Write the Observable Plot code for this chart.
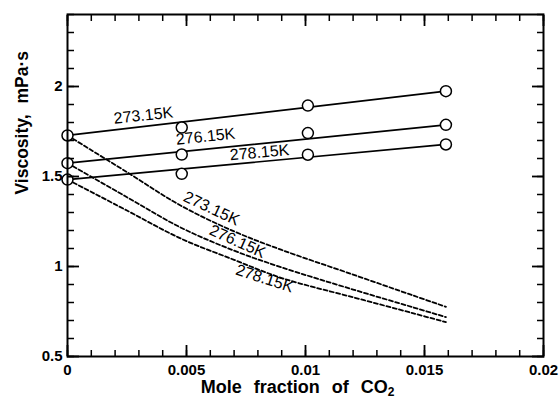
<!DOCTYPE html>
<html>
<head>
<meta charset="utf-8">
<script src="https://cdn.jsdelivr.net/npm/d3@7"></script>
<script src="https://cdn.jsdelivr.net/npm/@observablehq/plot@0.6"></script>
<style>
  html, body { margin: 0; padding: 0; background: white; }
</style>
</head>
<body>
<div id="chart"></div>
<script>
// ---- data ----
const temps = ["273.15K", "276.15K", "278.15K"];

// measured points (circles)
const pointX = [0, 0.0048, 0.0101, 0.0159];
const points273 = [1.728, 1.772, 1.894, 1.974];
const points276 = [1.574, 1.622, 1.741, 1.787];
const points278 = [1.483, 1.515, 1.621, 1.678];

// solid fitted lines (end points)
const fitX = [0, 0.0159];
const fit273 = [1.728, 1.974];
const fit276 = [1.574, 1.787];
const fit278 = [1.483, 1.678];

// dashed curves
const curveX = [0, 0.0025, 0.00475, 0.007, 0.009, 0.012, 0.0145, 0.0159];
const curve273 = [1.728, 1.524, 1.339, 1.195, 1.092, 0.955, 0.840, 0.776];
const curve276 = [1.574, 1.385, 1.217, 1.088, 0.995, 0.872, 0.774, 0.719];
const curve278 = [1.483, 1.311, 1.156, 1.037, 0.936, 0.829, 0.741, 0.691];

// labels (data coordinates)
const solidLabelX = [0.00319, 0.0058, 0.00807];
const solidLabelY = [1.839, 1.722, 1.633];
const solidLabelAngle = [-6, -6, -5];
const dashLabelX = [0.00605, 0.00714, 0.00828];
const dashLabelY = [1.322, 1.139, 0.933];
const dashLabelAngle = [25, 24, 18];

// axes
const xMajor = [0, 0.005, 0.01, 0.015, 0.02];
const xMinor = d3.range(0, 0.02001, 0.001);
const yMajor = [0.5, 1, 1.5, 2];
const yMinor = d3.range(0.5, 2.401, 0.1).map(v => +v.toFixed(2));
const xTitle = "Mole fraction of CO";
const xTitleSub = "2";
const yTitle = "Viscosity, mPa\u00B7s";

// ---- build tables ----
const ptSeries = [points273, points276, points278];
const fitSeries = [fit273, fit276, fit278];
const curveSeries = [curve273, curve276, curve278];
const pts = [], fits = [], curves = [], labels = [];
temps.forEach((t, i) => {
  pointX.forEach((x, j) => pts.push({T: t, x, y: ptSeries[i][j]}));
  fitX.forEach((x, j) => fits.push({T: t, x, y: fitSeries[i][j]}));
  curveX.forEach((x, j) => curves.push({T: t, x, y: curveSeries[i][j]}));
  labels.push({text: t, x: solidLabelX[i], y: solidLabelY[i], a: solidLabelAngle[i]});
  labels.push({text: t, x: dashLabelX[i], y: dashLabelY[i], a: dashLabelAngle[i]});
});

const fmt = d => String(d);
const font = "'Liberation Sans', Arial, Helvetica, sans-serif";

const chart = Plot.plot({
  width: 560,
  height: 399,
  marginLeft: 67,
  marginRight: 17,
  marginTop: 14,
  marginBottom: 43,
  style: {fontFamily: font, background: "white", color: "black", overflow: "visible"},
  x: {domain: [0, 0.02]},
  y: {domain: [0.5, 2.4]},
  marks: [
    Plot.line(curves, {x: "x", y: "y", z: "T", stroke: "black", strokeWidth: 1.8, strokeDasharray: "4,2.5", curve: "catmull-rom"}),
    Plot.line(fits, {x: "x", y: "y", z: "T", stroke: "black", strokeWidth: 1.7}),
    Plot.dot(pts, {x: "x", y: "y", r: 5.5, fill: "white", stroke: "black", strokeWidth: 1.5}),
    Plot.text(labels, {x: "x", y: "y", text: "text", rotate: "a", fontSize: 16, fill: "black"}),
    Plot.frame({stroke: "black", strokeWidth: 2}),
    // bottom axis
    Plot.axisX(xMinor, {anchor: "bottom", tickSize: -6, tickFormat: () => "", label: null, strokeWidth: 1.5}),
    Plot.axisX(xMajor, {anchor: "bottom", tickSize: -11, tickPadding: 19, tickFormat: fmt, label: null, strokeWidth: 1.8, fontSize: 15, fontWeight: "bold"}),
    // top axis
    Plot.axisX(xMinor, {anchor: "top", tickSize: -6, tickFormat: () => "", label: null, strokeWidth: 1.5}),
    Plot.axisX(xMajor, {anchor: "top", tickSize: -11, tickFormat: () => "", label: null, strokeWidth: 1.8}),
    // left axis
    Plot.axisY(yMinor, {anchor: "left", tickSize: -7, tickFormat: () => "", label: null, strokeWidth: 1.5}),
    Plot.axisY(yMajor, {anchor: "left", tickSize: -12, tickPadding: 17, tickFormat: fmt, label: null, strokeWidth: 1.8, fontSize: 15, fontWeight: "bold"}),
    // right axis
    Plot.axisY(yMinor, {anchor: "right", tickSize: -7, tickFormat: () => "", label: null, strokeWidth: 1.5}),
    Plot.axisY(yMajor, {anchor: "right", tickSize: -12, tickFormat: () => "", label: null, strokeWidth: 1.8}),
    // titles
    Plot.text([xTitle], {frameAnchor: "bottom", dy: 36, dx: -8, text: d => d, fontSize: 18, fontWeight: "bold", fill: "black"}),
    Plot.text([yTitle], {frameAnchor: "left", rotate: -90, dx: -45, dy: 9, text: d => d, fontSize: 17.5, fontWeight: "bold", fill: "black"})
  ]
});

// subscript and wide word spacing of the titles
d3.select(chart).selectAll("text").each(function () {
  const el = d3.select(this);
  if (this.textContent === xTitle) {
    el.style("word-spacing", "7px");
    el.append("tspan").attr("dy", "0.3em").attr("font-size", 12).text(xTitleSub);
  } else if (this.textContent === yTitle) {
    el.style("word-spacing", "6px");
  }
});
document.getElementById("chart").appendChild(chart);
</script>
</body>
</html>
